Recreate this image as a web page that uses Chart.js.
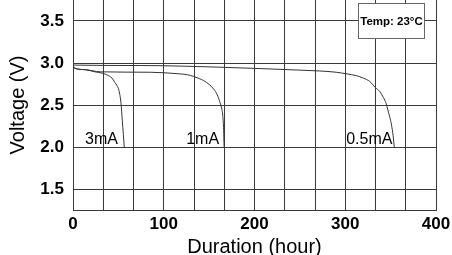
<!DOCTYPE html>
<html>
<head>
<meta charset="utf-8">
<script src="https://cdn.jsdelivr.net/npm/chart.js@4"></script>
<style>
  body { margin: 0; background: #fff; }
</style>
</head>
<body>
<canvas id="grafico" width="452" height="255"></canvas>
<script>
// Curvas de descarga (horas, voltios)
const horas3mA = [0, 0.3, 1.4, 14, 24, 32, 36, 39, 43, 46, 48.5, 50.7, 52.9, 54.3, 55.5, 56.5];
const volt3mA  = [3.27, 3.0, 2.94, 2.92, 2.895, 2.88, 2.865, 2.85, 2.82, 2.77, 2.73, 2.67, 2.52, 2.32, 2.15, 2.0];

const horas1mA = [0, 0.3, 1.4, 14, 30, 85, 118, 126, 133, 139, 144, 150, 155, 159, 162, 164, 165, 166, 166.5];
const volt1mA  = [3.27, 3.0, 2.94, 2.92, 2.895, 2.89, 2.87, 2.86, 2.84, 2.815, 2.79, 2.745, 2.69, 2.62, 2.53, 2.45, 2.38, 2.2, 2.0];

const horas05mA = [0, 0.3, 1.4, 74, 162, 250, 272, 290, 302, 312, 320, 327, 333, 338, 342, 345, 347, 349, 351, 352.7, 354];
const volt05mA  = [3.27, 3.0, 2.975, 2.97, 2.95, 2.915, 2.905, 2.89, 2.87, 2.85, 2.82, 2.78, 2.71, 2.66, 2.59, 2.52, 2.44, 2.36, 2.26, 2.14, 2.0];

const nombresCurvas = ['3mA', '1mA', '0.5mA'];
const horasEtiquetas = [49.6, 161, 352];

const ticksX = [0, 100, 200, 300, 400];
const ticksY = [1.5, 2.0, 2.5, 3.0, 3.5];

const textoTemp = 'Temp: 23°C';

const FUENTE = '"Liberation Sans", Arial, sans-serif';
const COLOR_REJILLA = '#3a3a3a';

function puntos(xs, ys) {
    return xs.map((h, i) => ({ x: h, y: ys[i] }));
}

// Etiquetas de las curvas y cuadro de temperatura
const anotaciones = {
    id: 'anotaciones',
    afterDatasetsDraw(chart) {
        const { ctx, scales: { x, y } } = chart;
        ctx.save();
        ctx.fillStyle = '#000';
        ctx.font = '16px ' + FUENTE;
        ctx.textAlign = 'right';
        ctx.textBaseline = 'alphabetic';
        const base = y.getPixelForValue(2.0) - 3;
        nombresCurvas.forEach((t, i) => {
            ctx.fillText(t, x.getPixelForValue(horasEtiquetas[i]), base);
        });

        // cuadro
        const x0 = Math.round(x.getPixelForValue(314)) + 0.5;
        const x1 = Math.round(x.getPixelForValue(387)) + 0.5;
        const y0 = Math.round(y.getPixelForValue(3.72)) + 0.5;
        const y1 = Math.round(y.getPixelForValue(3.30)) + 0.5;
        ctx.fillStyle = '#fff';
        ctx.fillRect(x0, y0, x1 - x0, y1 - y0);
        ctx.strokeStyle = '#666';
        ctx.lineWidth = 1;
        ctx.strokeRect(x0, y0, x1 - x0, y1 - y0);
        ctx.fillStyle = '#000';
        ctx.font = 'bold 11.5px ' + FUENTE;
        ctx.textAlign = 'center';
        ctx.textBaseline = 'middle';
        ctx.fillText(textoTemp, (x0 + x1) / 2, (y0 + y1) / 2 + 1);
        ctx.restore();
    }
};

const estiloCurva = {
    borderColor: '#333',
    borderWidth: 1,
    pointRadius: 0,
    fill: false,
    cubicInterpolationMode: 'monotone'
};

new Chart(document.getElementById('grafico'), {
    type: 'line',
    data: {
        datasets: [
            Object.assign({ label: nombresCurvas[0], data: puntos(horas3mA, volt3mA) }, estiloCurva),
            Object.assign({ label: nombresCurvas[1], data: puntos(horas1mA, volt1mA) }, estiloCurva),
            Object.assign({ label: nombresCurvas[2], data: puntos(horas05mA, volt05mA) }, estiloCurva)
        ]
    },
    options: {
        responsive: false,
        animation: false,
        layout: { padding: { left: 0, right: 16, top: 0, bottom: 0 } },
        plugins: {
            legend: { display: false },
            tooltip: { enabled: false }
        },
        scales: {
            x: {
                type: 'linear',
                min: 0,
                max: 400,
                afterBuildTicks: (eje) => {
                    // rejilla cada 100/3 horas
                    const t = [];
                    for (let i = 0; i <= 12; i++) t.push({ value: i * 100 / 3 });
                    eje.ticks = t;
                },
                afterFit: (eje) => {
                    eje.height = 45;
                    eje.paddingLeft = 0;
                    eje.paddingRight = 0;
                },
                ticks: {
                    autoSkip: false,
                    maxRotation: 0,
                    padding: 4,
                    color: '#000',
                    font: { family: FUENTE, size: 17, weight: 'bold' },
                    callback: (v) => {
                        const r = Math.round(v);
                        return ticksX.includes(r) && Math.abs(v - r) < 0.01 ? String(r) : '';
                    }
                },
                grid: { color: COLOR_REJILLA, lineWidth: 1, drawTicks: false },
                border: { color: COLOR_REJILLA, width: 1 },
                title: {
                    display: true,
                    text: 'Duration (hour)',
                    color: '#000',
                    font: { family: FUENTE, size: 20, lineHeight: 1 },
                    padding: { top: 0, bottom: -2 }
                }
            },
            y: {
                type: 'linear',
                min: 1.25,
                max: 3.75,
                afterBuildTicks: (eje) => {
                    eje.ticks = ticksY.map(v => ({ value: v }));
                },
                afterFit: (eje) => {
                    eje.width = 73;
                    eje.paddingTop = 0;
                    eje.paddingBottom = 0;
                },
                ticks: {
                    padding: 9,
                    color: '#000',
                    font: { family: FUENTE, size: 17, weight: 'bold' },
                    callback: (v) => v.toFixed(1)
                },
                grid: { color: COLOR_REJILLA, lineWidth: 1, drawTicks: false },
                border: { color: COLOR_REJILLA, width: 1 },
                title: {
                    display: true,
                    text: 'Voltage (V)',
                    color: '#000',
                    font: { family: FUENTE, size: 20, lineHeight: 1.2 },
                    padding: { top: 6, bottom: 0 }
                }
            }
        }
    },
    plugins: [anotaciones]
});
</script>
</body>
</html>
